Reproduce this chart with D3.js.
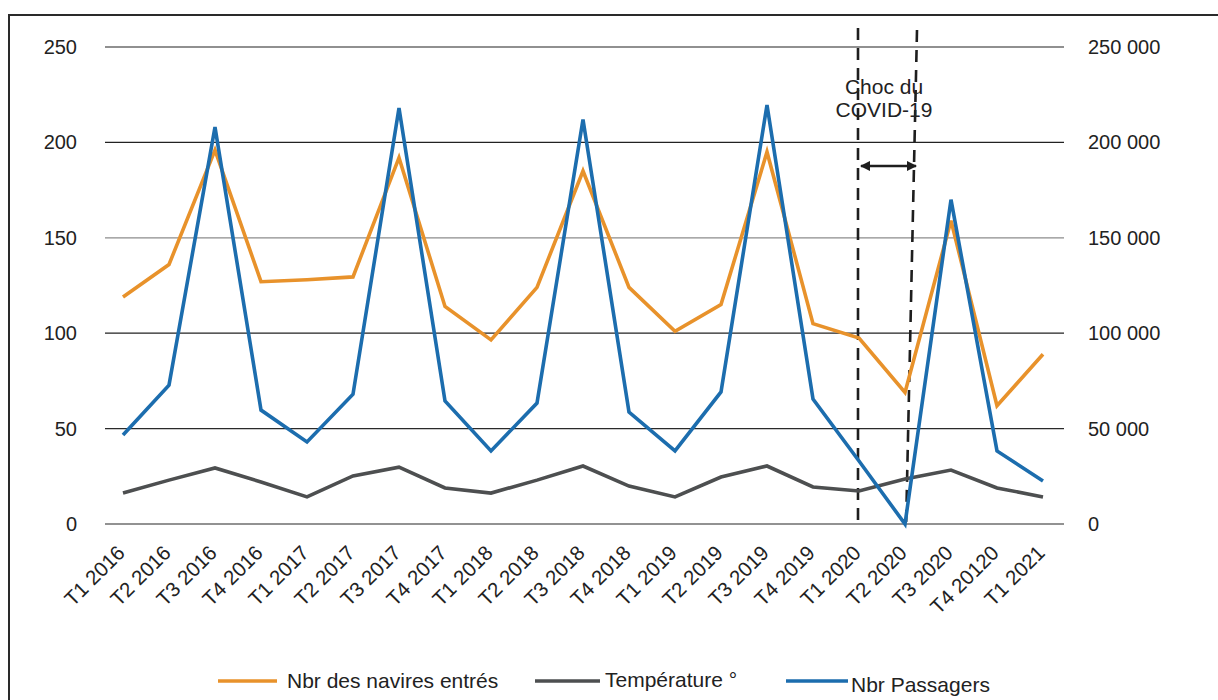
<!DOCTYPE html>
<html><head><meta charset="utf-8">
<script src="https://cdn.jsdelivr.net/npm/d3@7"></script>
<style>body{margin:0;background:#fff}svg{display:block}text{font-family:"Liberation Sans",Arial,sans-serif;fill:#222}</style>
</head><body>
<svg id="c" width="1218" height="700"></svg>
<script>
const categories = ["T1 2016","T2 2016","T3 2016","T4 2016","T1 2017","T2 2017","T3 2017","T4 2017","T1 2018","T2 2018","T3 2018","T4 2018","T1 2019","T2 2019","T3 2019","T4 2019","T1 2020","T2 2020","T3 2020","T4 20120","T1 2021"];
const navires = [119,136,196,127,128,129.5,192,114,96.5,124,185,124,101,115,195,105,97.5,69,159,62,89];
const temperature = [16.2,23,29.4,22,14.2,25.2,29.8,18.9,16.2,23,30.4,19.9,14.2,24.6,30.4,19.4,17.3,23.6,28.3,18.9,14.2];
const passagers = [46600,72800,208000,59700,43000,68000,218000,64500,38300,63400,212000,58700,38300,69200,219600,65500,33000,0,170000,38300,22500];
const leftTicks = [0,50,100,150,200,250];
const rightTicks = [0,50000,100000,150000,200000,250000];
const seriesNames = ["Nbr des navires entrés","Température °","Nbr Passagers"];
const annotation = ["Choc du","COVID-19"];

const svg = d3.select("#c");
const colors = {nav:"#E8922B", temp:"#4D4F50", pas:"#1C6DAE"};

// frame
svg.append("rect").attr("x",9).attr("y",15).attr("width",1300).attr("height",800)
  .attr("fill","none").attr("stroke","#2a2a2a").attr("stroke-width",2);

const x = d3.scalePoint().domain(categories).range([123,1043]);
const yL = d3.scaleLinear().domain([0,250]).range([524,47]);
const yR = d3.scaleLinear().domain([0,250000]).range([524,47]);
const gx0 = 105, gx1 = 1064;

// gridlines
const gridCol = {0:"#6e6e6e",50:"#2a2a2a",100:"#222",150:"#8c8c8c",200:"#222",250:"#222"};
svg.append("g").selectAll("line").data(leftTicks).join("line")
  .attr("x1",gx0).attr("x2",gx1).attr("y1",d=>yL(d)).attr("y2",d=>yL(d))
  .attr("stroke",d=>gridCol[d]).attr("stroke-width",d=>d===0?1.6:1.2);

// left axis labels
const axL = svg.append("g").attr("transform",`translate(${gx0-28},0)`)
  .call(d3.axisLeft(yL).tickValues(leftTicks).tickSize(0).tickPadding(0));
axL.select(".domain").remove();
axL.selectAll("text").attr("font-size",20).attr("fill","#222").style("font-family","Liberation Sans, Arial, sans-serif");

// right axis labels
const fmt = d => d===0 ? "0" : d3.format(",")(d).replace(/,/g," ");
const axR = svg.append("g").attr("transform",`translate(${gx1+24},0)`)
  .call(d3.axisRight(yR).tickValues(rightTicks).tickSize(0).tickPadding(0).tickFormat(fmt));
axR.select(".domain").remove();
axR.selectAll("text").attr("font-size",20).attr("fill","#222").style("font-family","Liberation Sans, Arial, sans-serif");

// x labels
svg.append("g").selectAll("text").data(categories).join("text")
  .attr("transform",d=>`translate(${x(d)-2},${549}) rotate(-45)`)
  .attr("text-anchor","end").attr("font-size",20.5).attr("dy","0.35em").text(d=>d);

// dashed covid lines
const xa = x("T1 2020"), xb = x("T2 2020");
svg.append("line").attr("x1",xa-1).attr("x2",xa-1).attr("y1",28).attr("y2",528)
  .attr("stroke","#1e1e1e").attr("stroke-width",2.6).attr("stroke-dasharray","12,8");
svg.append("line").attr("x1",xb+12).attr("x2",xb+1).attr("y1",30).attr("y2",528)
  .attr("stroke","#1e1e1e").attr("stroke-width",2.6).attr("stroke-dasharray","12,8");

// lines
const line = (yS,vals) => d3.line().x((d,i)=>x(categories[i])).y(d=>yS(d))(vals);
svg.append("path").attr("d",line(yL,temperature)).attr("fill","none").attr("stroke",colors.temp).attr("stroke-width",3.6).attr("stroke-linejoin","miter");
svg.append("path").attr("d",line(yL,navires)).attr("fill","none").attr("stroke",colors.nav).attr("stroke-width",3.6).attr("stroke-linejoin","miter");
svg.append("path").attr("d",line(yR,passagers)).attr("fill","none").attr("stroke",colors.pas).attr("stroke-width",3.6).attr("stroke-linejoin","miter");

// arrow
const defs = svg.append("defs");
defs.append("marker").attr("id","ah").attr("viewBox","0 0 10 10").attr("refX",9).attr("refY",5)
  .attr("markerWidth",4).attr("markerHeight",4).attr("orient","auto-start-reverse")
  .append("path").attr("d","M0,0L10,5L0,10Z").attr("fill","#1e1e1e");
svg.append("line").attr("x1",xa+2).attr("x2",xb+11).attr("y1",166).attr("y2",166)
  .attr("stroke","#1e1e1e").attr("stroke-width",2.6)
  .attr("marker-start","url(#ah)").attr("marker-end","url(#ah)");

// annotation text
svg.append("g").selectAll("text").data(annotation).join("text")
  .attr("x",(xa+xb)/2+2).attr("y",(d,i)=>94+i*23).attr("text-anchor","middle")
  .attr("font-size",21).attr("fill","#333").text(d=>d);

// legend
const leg = [
  {name:seriesNames[0],col:colors.nav,x1:218,x2:277,tx:287,ty:688},
  {name:seriesNames[1],col:colors.temp,x1:535,x2:600,tx:605,ty:687},
  {name:seriesNames[2],col:colors.pas,x1:786,x2:848,tx:851,ty:692}
];
const lg = svg.append("g");
leg.forEach(l=>{
  lg.append("line").attr("x1",l.x1).attr("x2",l.x2).attr("y1",681).attr("y2",681).attr("stroke",l.col).attr("stroke-width",3.6);
  lg.append("text").attr("x",l.tx).attr("y",l.ty).attr("font-size",21).text(l.name);
});
</script>
</body></html>
